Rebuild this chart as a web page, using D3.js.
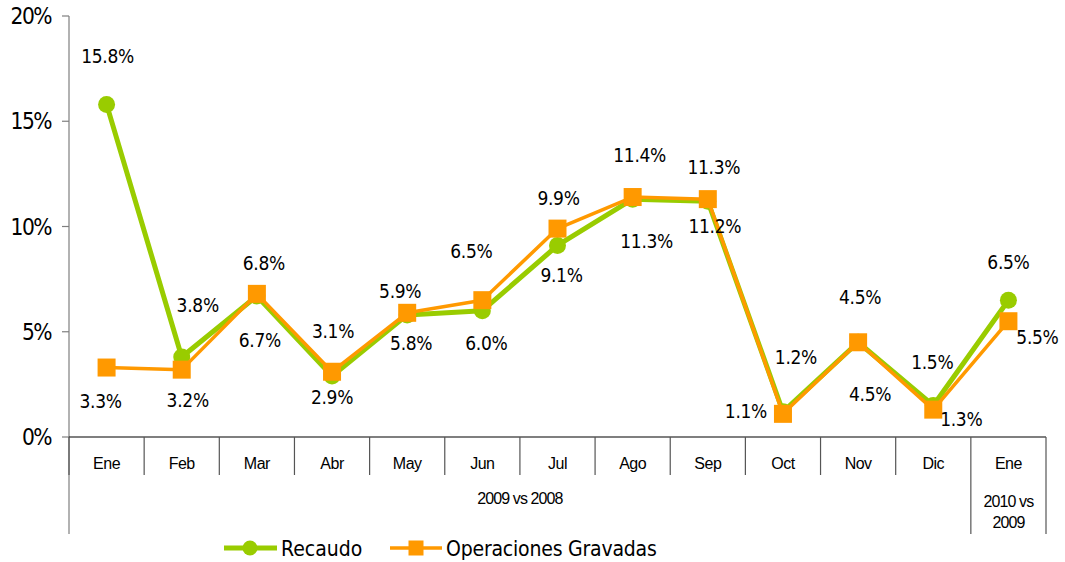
<!DOCTYPE html>
<html>
<head>
<meta charset="utf-8">
<script src="https://cdn.jsdelivr.net/npm/d3@7"></script>
<style>
  body { margin: 0; background: #fff; }
  svg { display: block; }
</style>
</head>
<body>
<div id="chart"></div>
<script>
// data
const months = ["Ene", "Feb", "Mar", "Abr", "May", "Jun", "Jul", "Ago", "Sep", "Oct", "Nov", "Dic", "Ene"]
const recaudo = [15.8, 3.8, 6.7, 2.9, 5.8, 6.0, 9.1, 11.3, 11.2, 1.2, 4.5, 1.5, 6.5]
const operaciones = [3.3, 3.2, 6.8, 3.1, 5.9, 6.5, 9.9, 11.4, 11.3, 1.1, 4.5, 1.3, 5.5]
const yTicks = [0, 5, 10, 15, 20]
const groups = [
  { label: ["2009 vs 2008"], from: 0, to: 11 },
  { label: ["2010 vs", "2009"], from: 12, to: 12 }
]

// label placement relative to each point [dx, dy]
const recaudoLabelPos = [[1, -48], [16, -52], [3, 44], [0, 21], [4, 28], [4, 32], [4, 30], [14, 42], [7, 25], [13, -55], [12, 52], [-1, -43], [0, -38]]
const operacionesLabelPos = [[-6, 34], [6, 31], [7, -31], [1, -41], [-7, -22], [-11, -49], [1, -30], [7, -42], [6, -32], [-37, -3], [2, -45], [28, 10], [29, 16]]

const width = 1065
const height = 562
const plotLeft = 69, plotRight = 1046, plotTop = 16, plotBottom = 437

const green = "#99cc00"
const orange = "#ff9900"

const svg = d3.select("#chart")
  .append("svg")
    .attr("width", width)
    .attr("height", height)

const x = d3.scaleBand()
  .domain(d3.range(months.length))
  .range([plotLeft, plotRight])

const y = d3.scaleLinear()
  .domain([0, 20])
  .range([plotBottom, plotTop])

const cx = i => x(i) + x.bandwidth() / 2

// y axis
svg.append("line")
  .attr("x1", plotLeft).attr("x2", plotLeft)
  .attr("y1", plotTop).attr("y2", 534)
  .attr("stroke", "#7f7f7f").attr("stroke-width", 1.2)

svg.selectAll(".ytick")
  .data(yTicks)
  .join("line")
    .attr("x1", plotLeft - 7).attr("x2", plotLeft)
    .attr("y1", d => y(d)).attr("y2", d => y(d))
    .attr("stroke", "#7f7f7f").attr("stroke-width", 1.2)

svg.selectAll(".ylab")
  .data(yTicks)
  .join("text")
    .attr("x", 51)
    .attr("y", d => y(d))
    .attr("dy", "0.36em")
    .attr("text-anchor", "end")
    .style("font-family", "DejaVu Sans Condensed")
    .style("font-size", "22.5px")
    .style("letter-spacing", "-1.5px")
    .attr("fill", "#000")
    .text(d => d + "%")

// x axis
svg.append("line")
  .attr("x1", plotLeft).attr("x2", plotRight)
  .attr("y1", plotBottom).attr("y2", plotBottom)
  .attr("stroke", "#000").attr("stroke-width", 1.2)

svg.selectAll(".xtick")
  .data(d3.range(months.length + 1))
  .join("line")
    .attr("x1", i => i < months.length ? x(i) : plotRight)
    .attr("x2", i => i < months.length ? x(i) : plotRight)
    .attr("y1", plotBottom)
    .attr("y2", i => (i === 12 || i === 13) ? 534 : 475)
    .attr("stroke", "#555").attr("stroke-width", 1.2)

svg.selectAll(".xlab")
  .data(months)
  .join("text")
    .attr("x", (d, i) => cx(i))
    .attr("y", 469)
    .attr("text-anchor", "middle")
    .style("font-family", "Liberation Sans")
    .style("font-size", "16px")
    .style("letter-spacing", "-0.5px")
    .text(d => d)

groups.forEach(g => {
  const gx = (x(g.from) + x(g.to) + x.bandwidth()) / 2
  const t = svg.append("text")
    .attr("x", gx)
    .attr("y", g.label.length > 1 ? 507 : 504)
    .attr("text-anchor", "middle")
    .style("font-family", "Liberation Sans")
    .style("font-size", "16px")
    .style("letter-spacing", "-0.9px")
  g.label.forEach((l, k) => {
    t.append("tspan").attr("x", gx).attr("dy", k === 0 ? 0 : 21).text(l)
  })
})

// lines
const line = d3.line()
  .x((d, i) => cx(i))
  .y(d => y(d))

svg.append("path")
  .datum(recaudo)
  .attr("d", line)
  .attr("fill", "none")
  .attr("stroke", green)
  .attr("stroke-width", 5)
  .attr("stroke-linejoin", "round")

svg.selectAll(".dot")
  .data(recaudo)
  .join("circle")
    .attr("cx", (d, i) => cx(i))
    .attr("cy", d => y(d))
    .attr("r", 8.5)
    .attr("fill", green)

svg.append("path")
  .datum(operaciones)
  .attr("d", line)
  .attr("fill", "none")
  .attr("stroke", orange)
  .attr("stroke-width", 3.5)
  .attr("stroke-linejoin", "round")

svg.selectAll(".sq")
  .data(operaciones)
  .join("rect")
    .attr("x", (d, i) => cx(i) - 9)
    .attr("y", d => y(d) - 9)
    .attr("width", 18)
    .attr("height", 18)
    .attr("fill", orange)

// data labels
const labelStyle = sel => sel
  .attr("text-anchor", "middle")
  .attr("dy", "0.36em")
  .style("font-family", "DejaVu Sans Condensed")
  .style("font-size", "19px")
  .style("letter-spacing", "-0.3px")
  .attr("fill", "#000")

svg.selectAll(".lr")
  .data(recaudo)
  .join("text")
    .attr("x", (d, i) => cx(i) + recaudoLabelPos[i][0])
    .attr("y", (d, i) => y(d) + recaudoLabelPos[i][1])
    .call(labelStyle)
    .text(d => d.toFixed(1) + "%")

svg.selectAll(".lo")
  .data(operaciones)
  .join("text")
    .attr("x", (d, i) => cx(i) + operacionesLabelPos[i][0])
    .attr("y", (d, i) => y(d) + operacionesLabelPos[i][1])
    .call(labelStyle)
    .text(d => d.toFixed(1) + "%")

// legend
const lg = svg.append("g").attr("transform", "translate(0,548)")
lg.append("line").attr("x1", 224).attr("x2", 277).attr("y1", 0).attr("y2", 0)
  .attr("stroke", green).attr("stroke-width", 5)
lg.append("circle").attr("cx", 250).attr("cy", 0).attr("r", 7.5).attr("fill", green)
lg.append("text").attr("x", 281).attr("y", 0).attr("dy", "0.36em")
  .style("font-family", "DejaVu Sans Condensed").style("font-size", "21px")
  .text("Recaudo")

lg.append("line").attr("x1", 390).attr("x2", 442).attr("y1", 0).attr("y2", 0)
  .attr("stroke", orange).attr("stroke-width", 3.5)
lg.append("rect").attr("x", 408.5).attr("y", -7.5).attr("width", 15).attr("height", 15).attr("fill", orange)
lg.append("text").attr("x", 446).attr("y", 0).attr("dy", "0.36em")
  .style("font-family", "DejaVu Sans Condensed").style("font-size", "21px")
  .style("letter-spacing", "-0.2px")
  .text("Operaciones Gravadas")
</script>
</body>
</html>
